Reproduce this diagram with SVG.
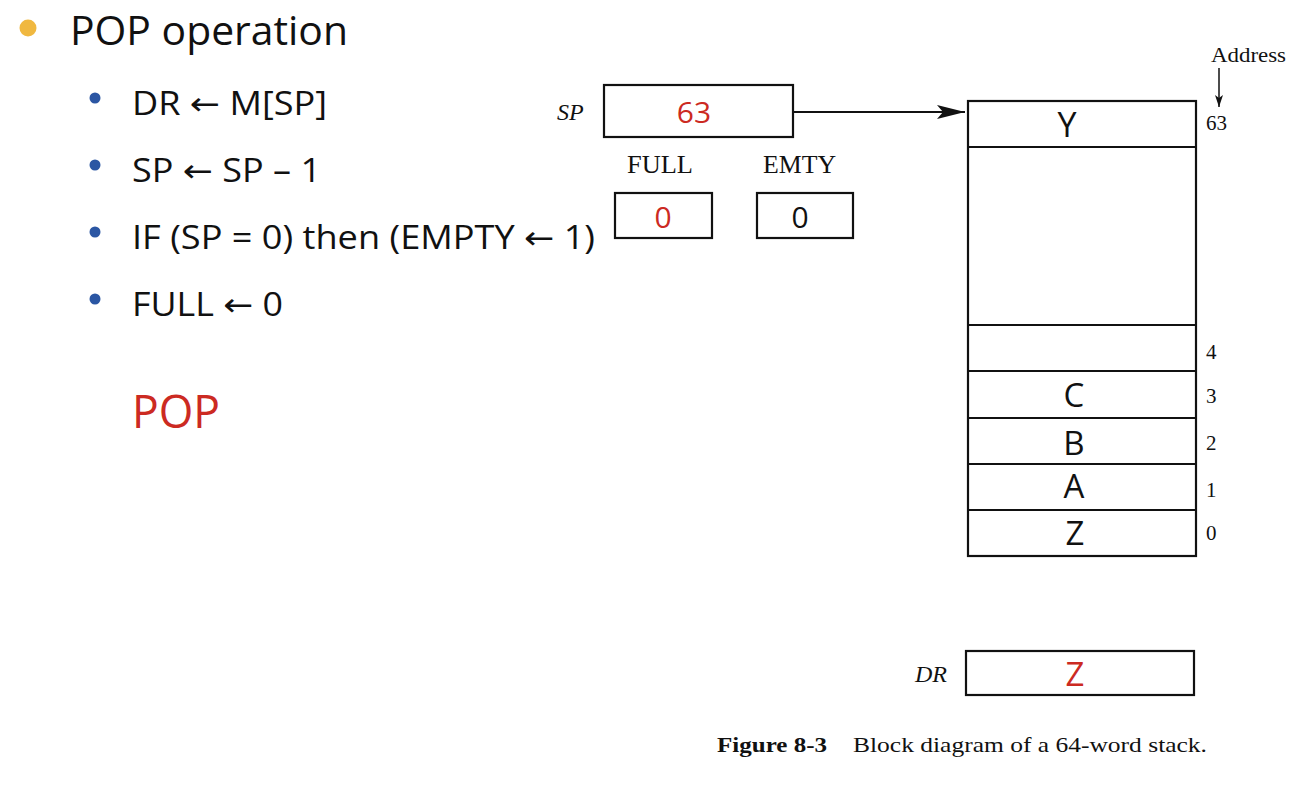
<svg xmlns="http://www.w3.org/2000/svg" width="1314" height="786" viewBox="0 0 1314 786">
<style>
.sans{font-family:"Open Sans","Liberation Sans",sans-serif;fill:#111}
.serif{font-family:"Liberation Serif","DejaVu Serif",serif;fill:#111}
.it{font-style:italic}
.red{fill:#cc2a22}
.arr{font-family:"DejaVu Sans",sans-serif}
.box{fill:#fff;stroke:#111;stroke-width:2.2}
.ln{stroke:#111;stroke-width:2.2;fill:none}
</style>
<defs>
<marker id="ah" markerWidth="12" markerHeight="8" refX="12" refY="4" orient="auto" markerUnits="userSpaceOnUse">
<path d="M0,0 L12,4 L0,8 L3,4 Z" fill="#111"/>
</marker>
<marker id="ah2" markerWidth="28" markerHeight="14" refX="28" refY="7" orient="auto" markerUnits="userSpaceOnUse">
<path d="M0,0 L28,7 L0,14 L6,7 Z" fill="#111"/>
</marker>
</defs>
<rect width="1314" height="786" fill="#fff"/>

<g id="bullets">
<circle cx="28" cy="28" r="8.5" fill="#f0b840"/>
<text class="sans" x="70" y="45" font-size="40" textLength="278" lengthAdjust="spacingAndGlyphs">POP operation</text>
<circle cx="95" cy="98" r="5.5" fill="#2b56a3"/>
<text class="sans" x="132" y="115" font-size="32" textLength="195" lengthAdjust="spacingAndGlyphs">DR <tspan class="arr">←</tspan> M[SP]</text>
<circle cx="95" cy="165" r="5.5" fill="#2b56a3"/>
<text class="sans" x="132" y="182" font-size="32" textLength="189" lengthAdjust="spacingAndGlyphs">SP <tspan class="arr">←</tspan> SP – 1</text>
<circle cx="95" cy="232" r="5.5" fill="#2b56a3"/>
<text class="sans" x="132" y="249" font-size="32" textLength="463" lengthAdjust="spacingAndGlyphs">IF (SP = 0) then (EMPTY <tspan class="arr">←</tspan> 1)</text>
<circle cx="95" cy="299" r="5.5" fill="#2b56a3"/>
<text class="sans" x="132" y="316" font-size="32" textLength="151" lengthAdjust="spacingAndGlyphs">FULL <tspan class="arr">←</tspan> 0</text>
<text class="sans red" x="132" y="428" font-size="46" textLength="88" lengthAdjust="spacingAndGlyphs">POP</text>
</g>

<g id="sp">
<text class="serif it" x="557" y="120" font-size="24">SP</text>
<rect class="box" x="604" y="85" width="189" height="52"/>
<text class="sans red" x="694" y="123" font-size="30" text-anchor="middle">63</text>
</g>

<g id="full">
<text class="serif" x="627" y="173" font-size="25" textLength="66" lengthAdjust="spacingAndGlyphs">FULL</text>
<rect class="box" x="615" y="193" width="97" height="45"/>
<text class="sans red" x="663" y="228" font-size="30" text-anchor="middle">0</text>
</g>

<g id="emty">
<text class="serif" x="763" y="173" font-size="25" textLength="73" lengthAdjust="spacingAndGlyphs">EMTY</text>
<rect class="box" x="757" y="193" width="96" height="45"/>
<text class="sans" x="800" y="228" font-size="30" text-anchor="middle" fill="#1a1f3a">0</text>
</g>

<g id="stack">
<rect class="box" x="968" y="101" width="228" height="455"/>
<line class="ln" x1="968" y1="147" x2="1196" y2="147"/>
<line class="ln" x1="968" y1="325" x2="1196" y2="325"/>
<line class="ln" x1="968" y1="371" x2="1196" y2="371"/>
<line class="ln" x1="968" y1="418" x2="1196" y2="418"/>
<line class="ln" x1="968" y1="464" x2="1196" y2="464"/>
<line class="ln" x1="968" y1="510" x2="1196" y2="510"/>
<text class="sans" x="1067" y="137" font-size="34" text-anchor="middle">Y</text>
<text class="sans" x="1074" y="407" font-size="33" text-anchor="middle">C</text>
<text class="sans" x="1074" y="455" font-size="33" text-anchor="middle">B</text>
<text class="sans" x="1074" y="498" font-size="33" text-anchor="middle">A</text>
<text class="sans" x="1075" y="545" font-size="33" text-anchor="middle">Z</text>
<text class="serif" x="1206" y="130" font-size="21">63</text>
<text class="serif" x="1206" y="359" font-size="21">4</text>
<text class="serif" x="1206" y="403" font-size="21">3</text>
<text class="serif" x="1206" y="450" font-size="21">2</text>
<text class="serif" x="1206" y="497" font-size="21">1</text>
<text class="serif" x="1206" y="540" font-size="21">0</text>
<text class="serif" x="1211" y="62" font-size="21" textLength="75" lengthAdjust="spacingAndGlyphs">Address</text>
</g>

<g id="dr">
<text class="serif it" x="915" y="682" font-size="24">DR</text>
<rect class="box" x="966" y="651" width="228" height="44"/>
<text class="sans red" x="1075" y="686" font-size="33" text-anchor="middle">Z</text>
</g>

<g id="caption">
<text class="serif" x="717" y="752" font-size="21" font-weight="bold" textLength="110" lengthAdjust="spacingAndGlyphs">Figure 8-3</text>
<text class="serif" x="853" y="752" font-size="21" textLength="354" lengthAdjust="spacingAndGlyphs">Block diagram of a 64-word stack.</text>
</g>

<g id="connectors">
<line class="ln" x1="793" y1="112" x2="965" y2="112" marker-end="url(#ah2)"/>
<line x1="1219" y1="68" x2="1219" y2="107" stroke="#111" stroke-width="1.5" marker-end="url(#ah)"/>
</g>
</svg>
